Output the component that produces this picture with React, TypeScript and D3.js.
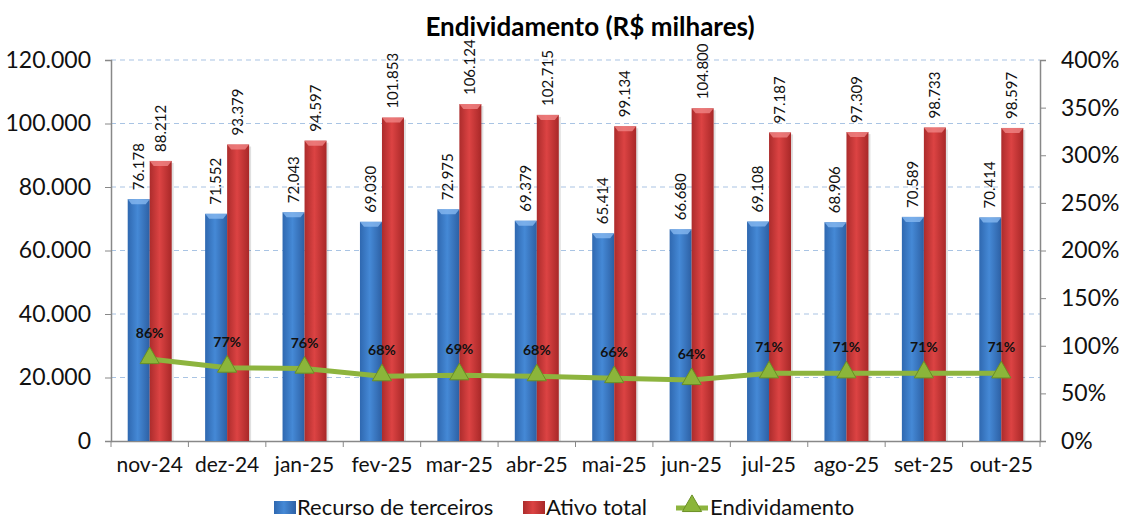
import React, { useEffect, useRef } from 'react';
import * as d3 from 'd3';

const months = ['nov-24', 'dez-24', 'jan-25', 'fev-25', 'mar-25', 'abr-25', 'mai-25', 'jun-25', 'jul-25', 'ago-25', 'set-25', 'out-25'];
const recursoTerceiros = [76178, 71552, 72043, 69030, 72975, 69379, 65414, 66680, 69108, 68906, 70589, 70414];
const ativoTotal = [88212, 93379, 94597, 101853, 106124, 102715, 99134, 104800, 97187, 97309, 98733, 98597];
const endividamento = [86, 77, 76, 68, 69, 68, 66, 64, 71, 71, 71, 71];
const leftTicks = [0, 20000, 40000, 60000, 80000, 100000, 120000];
const rightTicks = [0, 50, 100, 150, 200, 250, 300, 350, 400];

const FONT = 'Lato, "Open Sans", sans-serif';
const fmt = (v: number) => d3.format(',')(v).replace(/,/g, '.');

const App: React.FC = () => {
  const ref = useRef<SVGSVGElement | null>(null);

  useEffect(() => {
    const svg = d3.select(ref.current);
    svg.selectAll('*').remove();

    const left = 111;
    const right = 1040;
    const top = 60;
    const bottom = 441;

    const x = d3.scaleBand().domain(months).range([left, right]);
    const y = d3.scaleLinear().domain([0, 120000]).range([bottom, top]);
    const yPct = d3.scaleLinear().domain([0, 400]).range([bottom, top]);
    const barW = 22;

    // gradients
    const defs = svg.append('defs');
    const grad = (id: string, c0: string, c1: string, c2: string) => {
      const g = defs.append('linearGradient').attr('id', id).attr('x1', '0').attr('x2', '1').attr('y1', '0').attr('y2', '0');
      g.append('stop').attr('offset', '0%').attr('stop-color', c0);
      g.append('stop').attr('offset', '45%').attr('stop-color', c1);
      g.append('stop').attr('offset', '100%').attr('stop-color', c2);
    };
    grad('blueG', '#2f68b0', '#4589d6', '#2d60a4');
    grad('redG', '#ac2c2c', '#dc4343', '#a82828');

    // title
    svg.append('text')
      .attr('x', 590).attr('y', 36)
      .attr('text-anchor', 'middle')
      .attr('font-family', FONT).attr('font-weight', 'bold').attr('font-size', 26)
      .text('Endividamento (R$ milhares)');

    // gridlines
    svg.append('g').selectAll('line')
      .data(leftTicks.filter((t) => t > 0))
      .enter().append('line')
      .attr('x1', left).attr('x2', right)
      .attr('y1', (d) => y(d)).attr('y2', (d) => y(d))
      .attr('stroke', '#a9c4e4').attr('stroke-width', 1.2).attr('stroke-dasharray', '5,4');

    // left axis
    const la = svg.append('g').attr('transform', `translate(${left},0)`)
      .call(d3.axisLeft(y).tickValues(leftTicks).tickFormat((d) => fmt(d as number)).tickSize(6).tickPadding(14));
    la.select('.domain').attr('stroke', '#888').attr('stroke-width', 1.5);
    la.selectAll('.tick line').attr('stroke', '#888');
    la.selectAll('text').attr('font-family', FONT).attr('font-size', 23).attr('fill', '#111');

    // right axis
    const ra = svg.append('g').attr('transform', `translate(${right},0)`)
      .call(d3.axisRight(yPct).tickValues(rightTicks).tickFormat((d) => `${d}%`).tickSize(6).tickPadding(15));
    ra.select('.domain').attr('stroke', '#888').attr('stroke-width', 1.5);
    ra.selectAll('.tick line').attr('stroke', '#888');
    ra.selectAll('text').attr('font-family', FONT).attr('font-size', 23).attr('fill', '#111');

    // bottom axis
    const ba = svg.append('g').attr('transform', `translate(0,${bottom})`)
      .call(d3.axisBottom(x).tickSize(0).tickPadding(16));
    ba.select('.domain').attr('stroke', '#888').attr('stroke-width', 1.5);
    ba.selectAll('text').attr('font-family', FONT).attr('font-size', 21).attr('fill', '#111');
    ba.selectAll('line.sep')
      .data(d3.range(months.length + 1))
      .enter().append('line')
      .attr('class', 'sep')
      .attr('x1', (i) => left + i * x.bandwidth()).attr('x2', (i) => left + i * x.bandwidth())
      .attr('y1', 0).attr('y2', 6)
      .attr('stroke', '#888');

    const cx = (m: string) => (x(m) as number) + x.bandwidth() / 2;

    const drawBars = (vals: number[], fill: string, cap: string, offset: number) => {
      const g = svg.append('g');
      months.forEach((m, i) => {
        const bx = cx(m) + offset;
        const by = y(vals[i]);
        g.append('rect').attr('x', bx + 2).attr('y', by + 2).attr('width', barW).attr('height', bottom - by - 2)
          .attr('fill', '#000').attr('opacity', 0.12);
        g.append('rect').attr('x', bx).attr('y', by).attr('width', barW).attr('height', bottom - by).attr('fill', fill);
        g.append('path')
          .attr('d', `M${bx},${by} L${bx + barW},${by} L${bx + barW - 4},${by + 5} L${bx + 4},${by + 5} Z`)
          .attr('fill', cap).attr('opacity', 0.8);
        g.append('text')
          .attr('transform', `translate(${bx + barW / 2 + 5},${by - 9}) rotate(-90)`)
          .attr('font-family', FONT).attr('font-size', 15).attr('fill', '#111')
          .text(fmt(vals[i]));
      });
    };
    drawBars(recursoTerceiros, 'url(#blueG)', '#86b8f0', -barW);
    drawBars(ativoTotal, 'url(#redG)', '#f08585', 0);

    // line
    const line = d3.line<number>().x((_, i) => cx(months[i])).y((d) => yPct(d));
    svg.append('path').datum(endividamento)
      .attr('d', line).attr('fill', 'none').attr('stroke', '#8db43e').attr('stroke-width', 5);

    const tri = d3.symbol().type(d3.symbolTriangle).size(160);
    svg.append('g').selectAll('path')
      .data(endividamento).enter().append('path')
      .attr('d', tri)
      .attr('transform', (d, i) => `translate(${cx(months[i])},${yPct(d) - 1})`)
      .attr('fill', '#8bb53a').attr('stroke', '#6a8f25').attr('stroke-width', 1);

    svg.append('g').selectAll('text')
      .data(endividamento).enter().append('text')
      .attr('x', (_, i) => cx(months[i])).attr('y', (d) => yPct(d) - 21)
      .attr('text-anchor', 'middle')
      .attr('font-family', FONT).attr('font-weight', 'bold').attr('font-size', 14).attr('fill', '#111')
      .text((d) => `${d}%`);

    // legend
    const lg = svg.append('g').attr('font-family', FONT).attr('font-size', 22).attr('fill', '#111');
    lg.append('rect').attr('x', 274).attr('y', 501).attr('width', 22).attr('height', 13).attr('fill', 'url(#blueG)');
    lg.append('text').attr('x', 297).attr('y', 515).text('Recurso de terceiros');
    lg.append('rect').attr('x', 523).attr('y', 501).attr('width', 22).attr('height', 13).attr('fill', 'url(#redG)');
    lg.append('text').attr('x', 546).attr('y', 515).text('Ativo total');
    lg.append('line').attr('x1', 676).attr('x2', 708).attr('y1', 508).attr('y2', 508)
      .attr('stroke', '#8db43e').attr('stroke-width', 5);
    lg.append('path').attr('d', tri).attr('transform', 'translate(692,506)')
      .attr('fill', '#8bb53a').attr('stroke', '#6a8f25');
    lg.append('text').attr('x', 710).attr('y', 515).text('Endividamento');
  }, []);

  return <svg ref={ref} width={1121} height={519} style={{ position: 'absolute', left: 0, top: 0, background: '#fff' }} />;
};

export default App;
